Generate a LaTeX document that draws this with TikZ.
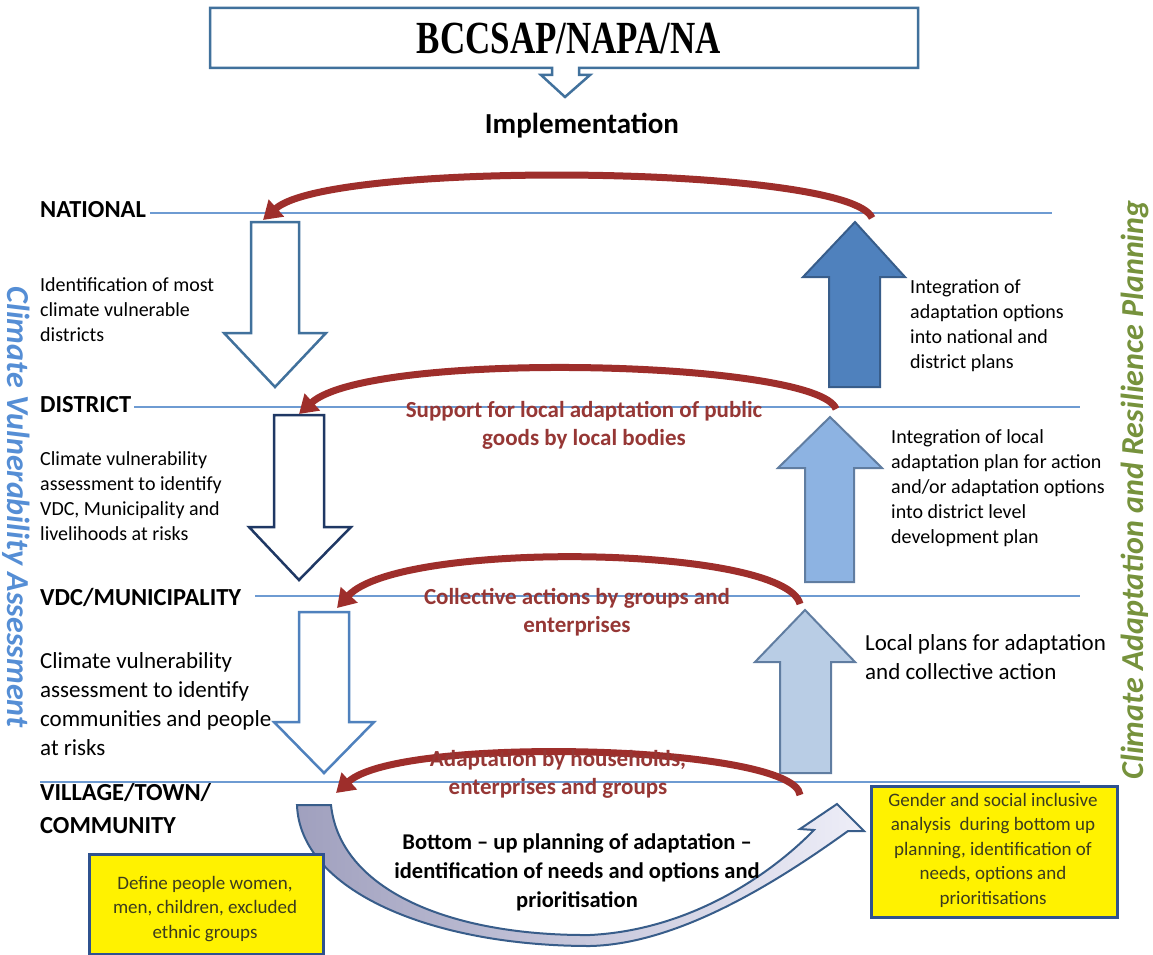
\documentclass[tikz,border=0pt]{standalone}
\usepackage{fontspec}
\setmainfont{Carlito}
\newfontfamily\titlefont{Liberation Serif}
\usetikzlibrary{arrows.meta}

\definecolor{lineblue}{RGB}{110,155,210}
\definecolor{boxblue}{RGB}{65,113,156}
\definecolor{navyblue}{RGB}{31,56,100}
\definecolor{midblue}{RGB}{79,129,189}
\definecolor{darkblue}{RGB}{56,93,138}
\definecolor{paleblue}{RGB}{141,179,226}
\definecolor{lightblue}{RGB}{185,205,229}
\definecolor{arcred}{RGB}{158,46,43}
\definecolor{textred}{RGB}{150,55,53}
\definecolor{sideblue}{RGB}{85,142,213}
\definecolor{sidegreen}{RGB}{118,146,60}
\definecolor{noteedge}{RGB}{47,82,143}
\definecolor{notetext}{RGB}{60,60,30}

\begin{document}
\begin{tikzpicture}[x=1pt,y=-1pt,
    level/.style={anchor=base west,inner sep=0,align=left,font=\bfseries\fontsize{24.5}{33}\selectfont},
    note/.style={anchor=base west,inner sep=0,align=left,font=\fontsize{20}{25}\selectfont},
    bignote/.style={anchor=base west,inner sep=0,align=left,font=\fontsize{23}{29}\selectfont},
    redtext/.style={anchor=base,inner sep=0,align=center,text=textred,font=\bfseries\fontsize{23}{28}\selectfont},
    boxtext/.style={anchor=base,inner sep=0,align=center,text=notetext,font=\fontsize{19}{24.5}\selectfont},
    sidetext/.style={inner sep=0,font=\bfseries\itshape\fontsize{32}{36}\selectfont},
    levelline/.style={lineblue,line width=1.5pt},
    downarrow/.style={fill=white,line width=2.5pt},
    uparrow/.style={line width=2pt},
    redarc/.style={arcred,line width=7pt,-{Triangle[width=22pt,length=18pt]}},
    yellowbox/.style={fill=yellow,draw=noteedge,line width=3pt,inner sep=0,anchor=north west}]
    \useasboundingbox[fill=white] (0,0) rectangle (1153,955);

    \draw[boxblue,line width=2.5pt,fill=white] (210,8) -- (918,8) -- (918,68) -- (579,68) -- (579,75)
        -- (590,75) -- (565,97) -- (541,75) -- (552,75) -- (552,68) -- (210,68) -- cycle;
    \node[font=\titlefont\bfseries\fontsize{46}{50}\selectfont,xscale=0.76] (title) at (569,38) {BCCSAP/NAPA/NA};
    \node[anchor=base,inner sep=0,font=\bfseries\fontsize{29}{32}\selectfont] (impl) at (582,133) {Implementation};

    \node[level] (natLbl) at (40,217) {NATIONAL};
    \node[level] (disLbl) at (40,412) {DISTRICT};
    \node[level] (vdcLbl) at (40,605) {VDC/MUNICIPALITY};
    \node[level] (vilLbl) at (40,833) {VILLAGE/TOWN/\\COMMUNITY};
    \draw[levelline] (150,213) -- (1052,213);
    \draw[levelline] (134,407) -- (1080,407);
    \draw[levelline] (255,596) -- (1080,596);
    \draw[levelline] (40,782) -- (1080,782);

    \draw[downarrow,draw=boxblue] (251,222) -- (299,222) -- (299,333) -- (326,333) -- (275,387) -- (224,333) -- (251,333) -- cycle;
    \draw[downarrow,draw=navyblue] (274,415) -- (324,415) -- (324,527) -- (351,527) -- (299,580) -- (249,527) -- (274,527) -- cycle;
    \draw[downarrow,draw=midblue] (299,612) -- (349,612) -- (349,722) -- (374,722) -- (324,773) -- (274,722) -- (299,722) -- cycle;

    \draw[uparrow,draw=darkblue,fill=midblue] (829,387) -- (829,277) -- (803,277) -- (855,222) -- (905,277) -- (880,277) -- (880,387) -- cycle;
    \draw[uparrow,draw=darkblue!80,fill=paleblue] (805,582) -- (805,468) -- (778,468) -- (830,417) -- (882,468) -- (854,468) -- (854,582) -- cycle;
    \draw[uparrow,draw=darkblue!80,fill=lightblue] (780,773) -- (780,662) -- (755,662) -- (805,610) -- (855,662) -- (831,662) -- (831,773) -- cycle;

    \shadedraw[left color={rgb,255:red,160;green,160;blue,190},right color={rgb,255:red,238;green,238;blue,248},
        draw=darkblue,line width=2pt]
        (297,805) .. controls (300,890) and (430,946) .. (590,946) .. controls (680,944) and (780,880) .. (848,831)
        -- (864,831) -- (837,804) -- (800,829) -- (814,830)
        .. controls (770,875) and (690,930) .. (590,935) .. controls (450,936) and (340,890) .. (331,805) -- cycle;

    \coordinate (natR) at (872,218);
    \coordinate (natL) at (263,220);
    \coordinate (disR) at (836,409);
    \coordinate (disL) at (299,414);
    \coordinate (vdcR) at (800,604);
    \coordinate (vdcL) at (337,608);
    \coordinate (vilR) at (800,795);
    \coordinate (vilL) at (336,793);
    \draw[redarc] (natR) .. controls (850,165) and (330,160) .. (natL);
    \draw[redarc] (disR) .. controls (818,360) and (370,350) .. (disL);
    \draw[redarc] (vdcR) .. controls (785,545) and (400,540) .. (vdcL);
    \draw[redarc] (vilR) .. controls (795,745) and (400,735) .. (vilL);

    \node[redtext] (supportTxt) at (584,445) {Support for local adaptation of public\\goods by local bodies};
    \node[redtext] (collectTxt) at (577,632) {Collective actions by groups and\\enterprises};
    \node[redtext] (householdTxt) at (558,794) {Adaptation by households,\\enterprises and groups};

    \node[note] (identTxt) at (40,341) {Identification of most\\climate vulnerable\\districts};
    \node[note] (assessVdcTxt) at (40,540) {Climate vulnerability\\assessment to identify\\VDC, Municipality and\\livelihoods at risks};
    \node[bignote] (assessComTxt) at (40,755) {Climate vulnerability\\assessment to identify\\communities and people\\at risks};
    \node[note] (intNatTxt) at (910,368) {Integration of\\adaptation options\\into national and\\district plans};
    \node[note] (intDisTxt) at (891,543) {Integration of local\\adaptation plan for action\\and/or adaptation options\\into district level\\development plan};
    \node[bignote] (localTxt) at (865,679) {Local plans for adaptation\\and collective action};
    \node[anchor=base,inner sep=0,align=center,font=\bfseries\fontsize{22.5}{29}\selectfont] (bottomTxt) at (577,907)
        {Bottom – up planning of adaptation –\\identification of needs and options and\\prioritisation};

    \node[yellowbox,minimum width=234pt,minimum height=100pt] (peopleBox) at (88,853) {};
    \node[boxtext] (peopleTxt) at (205,938) {Define people women,\\men, children, excluded\\ethnic groups};
    \node[yellowbox,minimum width=246pt,minimum height=131pt] (genderBox) at (870,785) {};
    \node[boxtext] (genderTxt) at (993,904) {Gender and social inclusive\\analysis~ during bottom up\\planning, identification of\\needs, options and\\prioritisations};

    \node[sidetext,rotate=-90,text=sideblue] (vulnSide) at (16,507) {Climate Vulnerability Assessment};
    \node[sidetext,rotate=90,text=sidegreen] (planSide) at (1135,490) {Climate Adaptation and Resilience Planning};
\end{tikzpicture}
\end{document}
